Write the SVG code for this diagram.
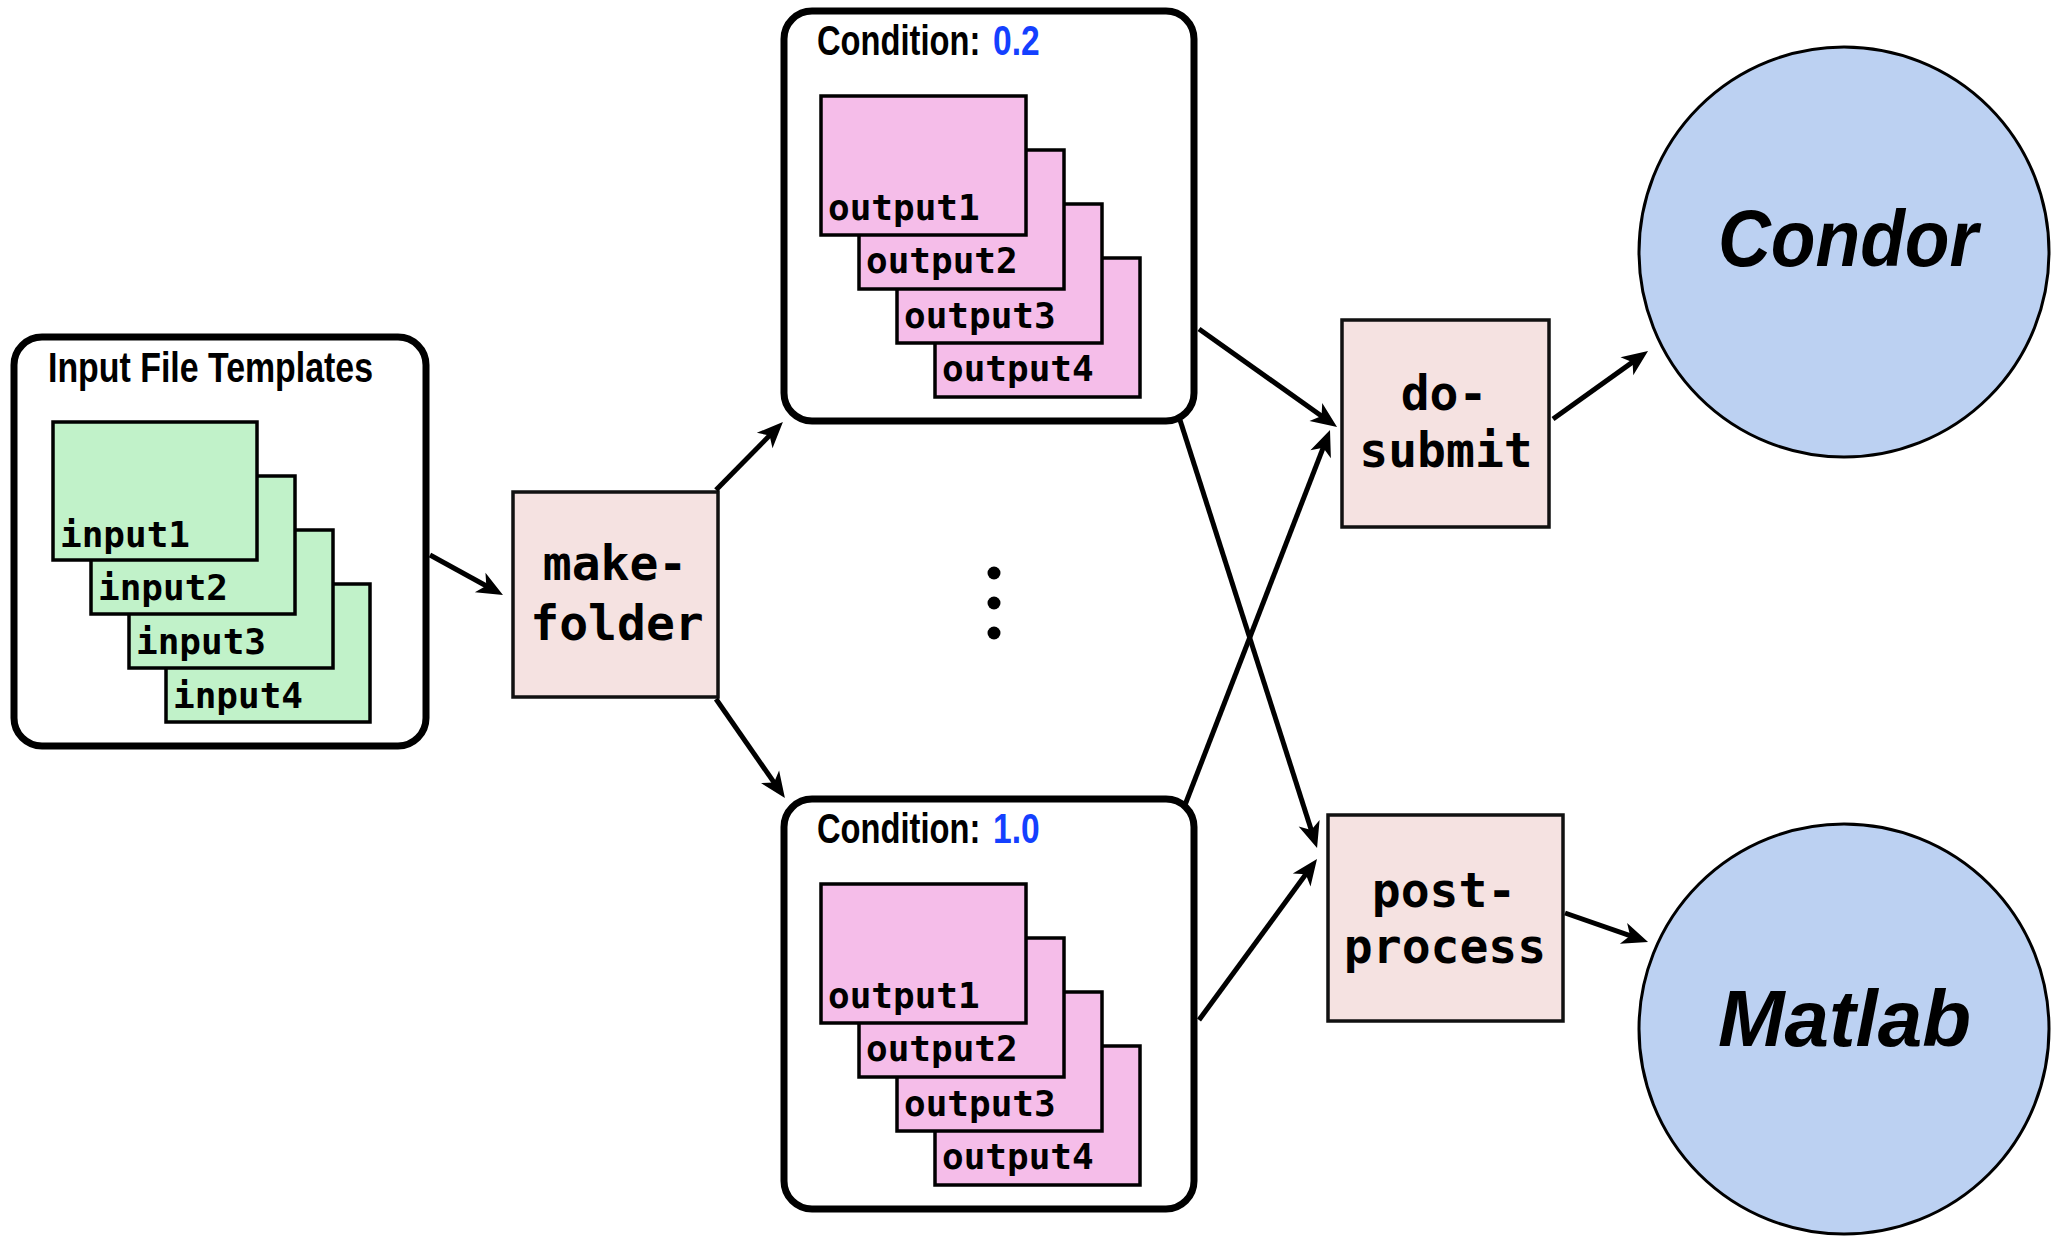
<svg xmlns="http://www.w3.org/2000/svg" width="2051" height="1236" viewBox="0 0 2051 1236">
<defs>
<style>
.frame{fill:#fff;stroke:#000;stroke-width:7}
.inp{fill:#c1f2c9;stroke:#000;stroke-width:3.5}
.out{fill:#f5bde9;stroke:#000;stroke-width:3.5}
.proc{fill:#f5e2e1;stroke:#111;stroke-width:3.5}
.circ{fill:#bcd1f2;stroke:#000;stroke-width:3}
.mono{font-family:"DejaVu Sans Mono","Liberation Mono",monospace;font-weight:bold;fill:#000}
.small{font-size:36px}
.big{font-size:48px;text-anchor:middle}
.title{font-family:"Liberation Sans",Arial,sans-serif;font-weight:bold;font-size:43px;fill:#000}
.blue{fill:#1440ff}
.tool{font-family:"Liberation Sans",Arial,sans-serif;font-weight:bold;font-style:italic;font-size:80px;fill:#000}
.conn line{stroke:#000;stroke-width:5;fill:none;marker-end:url(#ah)}
</style>
<marker id="ah" markerUnits="userSpaceOnUse" markerWidth="40" markerHeight="30" refX="16" refY="12" orient="auto" overflow="visible">
<path d="M26,12 L0,1 L7,12 L0,23 Z" fill="#000"/>
</marker>
</defs>
<rect width="2051" height="1236" fill="#fff"/>

<g id="input-templates">
<rect class="frame" x="14" y="337" width="412" height="409" rx="28"/>
<text class="title" x="48" y="382" textLength="325" lengthAdjust="spacingAndGlyphs">Input File Templates</text>
<rect class="inp" x="166" y="584" width="204" height="138"/>
<rect class="inp" x="129" y="530" width="204" height="138"/>
<rect class="inp" x="91" y="476" width="204" height="138"/>
<rect class="inp" x="53" y="422" width="204" height="138"/>
<text class="mono small" x="60" y="547">input1</text>
<text class="mono small" x="98" y="600">input2</text>
<text class="mono small" x="136" y="654">input3</text>
<text class="mono small" x="173" y="708">input4</text>
</g>

<g id="make-folder">
<rect class="proc" x="513" y="492" width="205" height="205"/>
<text class="mono big" x="615" y="580">make-</text>
<text class="mono big" x="617" y="640">folder</text>
</g>

<g id="condition-0-2">
<rect class="frame" x="784" y="11" width="410" height="410" rx="28"/>
<text class="title" transform="translate(817,55) scale(0.76,1)">Condition:</text>
<text class="title blue" transform="translate(993,55) scale(0.78,1)">0.2</text>
<rect class="out" x="935" y="258" width="205" height="139"/>
<rect class="out" x="897" y="204" width="205" height="139"/>
<rect class="out" x="859" y="150" width="205" height="139"/>
<rect class="out" x="821" y="96" width="205" height="139"/>
<text class="mono small" x="828" y="220">output1</text>
<text class="mono small" x="866" y="273">output2</text>
<text class="mono small" x="904" y="328">output3</text>
<text class="mono small" x="942" y="381">output4</text>
</g>

<g id="ellipsis">
<circle cx="994" cy="573" r="6.5" fill="#000"/>
<circle cx="994" cy="603" r="6.5" fill="#000"/>
<circle cx="994" cy="633" r="6.5" fill="#000"/>
</g>

<g id="condition-1-0">
<rect class="frame" x="784" y="799" width="410" height="410" rx="28"/>
<text class="title" transform="translate(817,843) scale(0.76,1)">Condition:</text>
<text class="title blue" transform="translate(993,843) scale(0.78,1)">1.0</text>
<rect class="out" x="935" y="1046" width="205" height="139"/>
<rect class="out" x="897" y="992" width="205" height="139"/>
<rect class="out" x="859" y="938" width="205" height="139"/>
<rect class="out" x="821" y="884" width="205" height="139"/>
<text class="mono small" x="828" y="1008">output1</text>
<text class="mono small" x="866" y="1061">output2</text>
<text class="mono small" x="904" y="1116">output3</text>
<text class="mono small" x="942" y="1169">output4</text>
</g>

<g id="do-submit">
<rect class="proc" x="1342" y="320" width="207" height="207"/>
<text class="mono big" x="1444" y="410">do-</text>
<text class="mono big" x="1446" y="467">submit</text>
</g>

<g id="post-process">
<rect class="proc" x="1328" y="815" width="235" height="206"/>
<text class="mono big" x="1444" y="907">post-</text>
<text class="mono big" x="1445" y="963">process</text>
</g>

<g id="condor">
<circle class="circ" cx="1844" cy="252" r="205"/>
<text class="tool" x="1718" y="266" textLength="260" lengthAdjust="spacingAndGlyphs">Condor</text>
</g>

<g id="matlab">
<circle class="circ" cx="1844" cy="1029" r="205"/>
<text class="tool" x="1718" y="1046" textLength="253" lengthAdjust="spacingAndGlyphs">Matlab</text>
</g>

<g id="connectors" class="conn">
<line x1="430" y1="555" x2="494.2" y2="590.2"/>
<line x1="716" y1="490" x2="775.9" y2="429.1"/>
<line x1="716" y1="699" x2="779.2" y2="789.9"/>
<line x1="1199" y1="329" x2="1328.9" y2="421.2"/>
<line x1="1180" y1="420" x2="1314" y2="838.5"/>
<line x1="1185" y1="805" x2="1326.4" y2="439.3"/>
<line x1="1199" y1="1020" x2="1311.1" y2="867.1"/>
<line x1="1553" y1="419" x2="1639.9" y2="356.9"/>
<line x1="1565" y1="913" x2="1638.6" y2="938.7"/>
</g>
</svg>
